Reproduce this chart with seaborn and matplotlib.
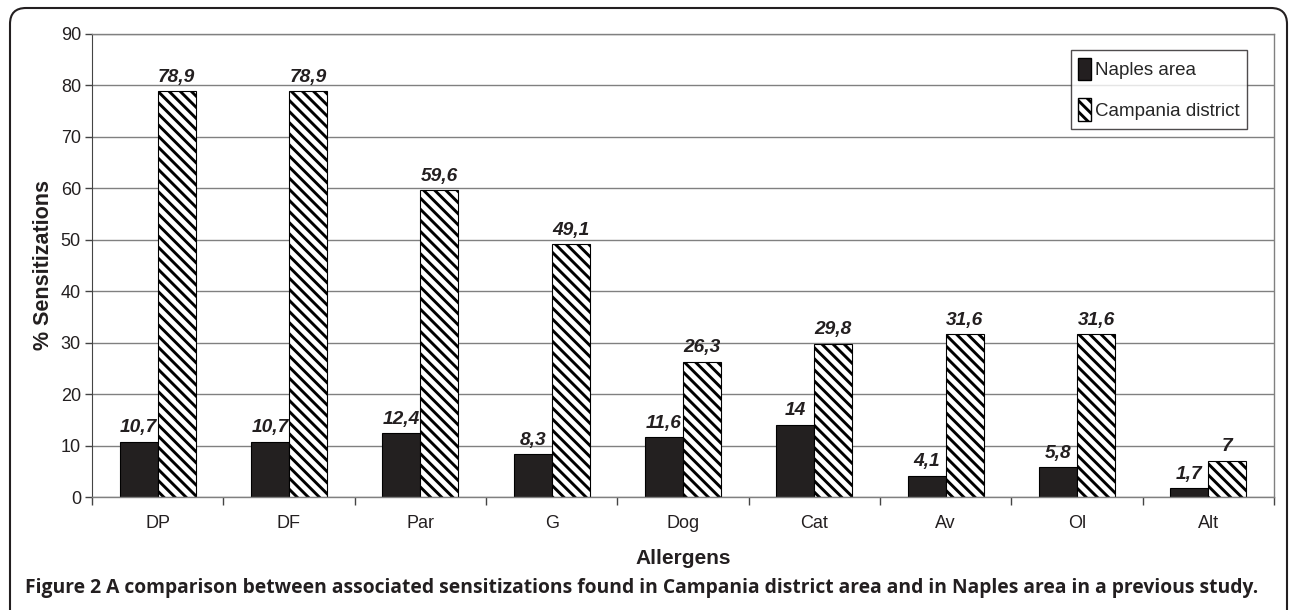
import numpy as np
import pandas as pd
import seaborn as sns
from matplotlib import pyplot as plt
from matplotlib.patches import Patch, FancyBboxPatch

allergens = ['DP', 'DF', 'Par', 'G', 'Dog', 'Cat', 'Av', 'Ol', 'Alt']
naples = [10.7, 10.7, 12.4, 8.3, 11.6, 14, 4.1, 5.8, 1.7]
campania = [78.9, 78.9, 59.6, 49.1, 26.3, 29.8, 31.6, 31.6, 7]
areas = ['Naples area', 'Campania district']

df = pd.DataFrame({
    'Allergen': allergens * 2,
    'Value': naples + campania,
    'Area': [areas[0]] * len(allergens) + [areas[1]] * len(allergens),
})

sns.set_style('white')
plt.rcParams['font.family'] = ['Liberation Sans', 'DejaVu Sans']
plt.rcParams['hatch.linewidth'] = 2.1

fig, ax = plt.subplots(figsize=(12.9, 6.1), dpi=100)
plt.subplots_adjust(left=92/1290, right=1274/1290, top=1-34/610, bottom=1-497/610)

sns.barplot(data=df, x='Allergen', y='Value', hue='Area', order=allergens,
            hue_order=areas, palette=['#231f20', 'white'], width=0.58, gap=0,
            edgecolor='black', linewidth=0.8, legend=False, ax=ax)

# hatch the Campania bars
for p in ax.containers[1]:
    p.set_hatch('\\\\\\')

def fmt(v):
    return f'{v:g}'.replace('.', ',')

for cont, vals in zip(ax.containers, [naples, campania]):
    ax.bar_label(cont, labels=[fmt(v) for v in vals], padding=4,
                 fontsize=13.8, fontweight='bold', fontstyle='italic', color='#231f20')

ax.set_ylim(0, 90)
ax.set_xlim(-0.5, len(allergens) - 0.5)
ax.set_yticks(range(0, 91, 10))
ax.yaxis.grid(True, color='#808080', linewidth=1)
ax.set_axisbelow(True)

ax.set_xticks(np.arange(len(allergens)))
ax.set_xticklabels(allergens)
ax.set_xticks(np.arange(-0.5, len(allergens)), minor=True)
ax.tick_params(axis='x', which='major', length=0, pad=13, labelsize=13, colors='#231f20')
ax.tick_params(axis='x', which='minor', length=6, width=1, color='#444444', direction='out', bottom=True)
ax.tick_params(axis='y', length=5, width=1, color='#444444', direction='out', left=True,
               labelsize=13, labelcolor='#231f20', pad=3)

for s in ['top', 'right', 'bottom']:
    ax.spines[s].set_color('#808080')
    ax.spines[s].set_linewidth(1)
ax.spines['left'].set_color('#444444')

ax.set_ylabel('% Sensitizations', fontsize=15.5, fontweight='bold', color='#231f20', labelpad=5)
ax.set_xlabel('Allergens', fontsize=15, fontweight='bold', color='#231f20', labelpad=12)

handles = [Patch(facecolor='#231f20', edgecolor='black', label=areas[0]),
           Patch(facecolor='white', edgecolor='black', hatch='\\\\\\', label=areas[1])]
leg = ax.legend(handles=handles, loc='upper right', bbox_to_anchor=(1247/1290, 1-50/610),
                bbox_transform=fig.transFigure, fontsize=13.5, frameon=True, fancybox=False,
                handlelength=0.7, handleheight=1.5, handletextpad=0.2, labelspacing=0.95,
                borderpad=0.4, borderaxespad=0)
leg.get_frame().set_edgecolor('#231f20')
leg.get_frame().set_linewidth(1)

box = FancyBboxPatch((0.1, -0.5), 12.77, 6.52, boxstyle='round,pad=0,rounding_size=0.16',
                     transform=fig.dpi_scale_trans, facecolor='none', edgecolor='#231f20',
                     linewidth=1.5, clip_on=False)
fig.patches.append(box)

fig.text(25/1290, 1-588/610,
         'Figure 2 A comparison between associated sensitizations found in Campania district area and in Naples area in a previous study.',
         fontsize=13.9, fontweight='bold', color='#231f20', va='center', ha='left',
         family=['Open Sans', 'DejaVu Sans'])

plt.savefig('out.png', dpi=100)
